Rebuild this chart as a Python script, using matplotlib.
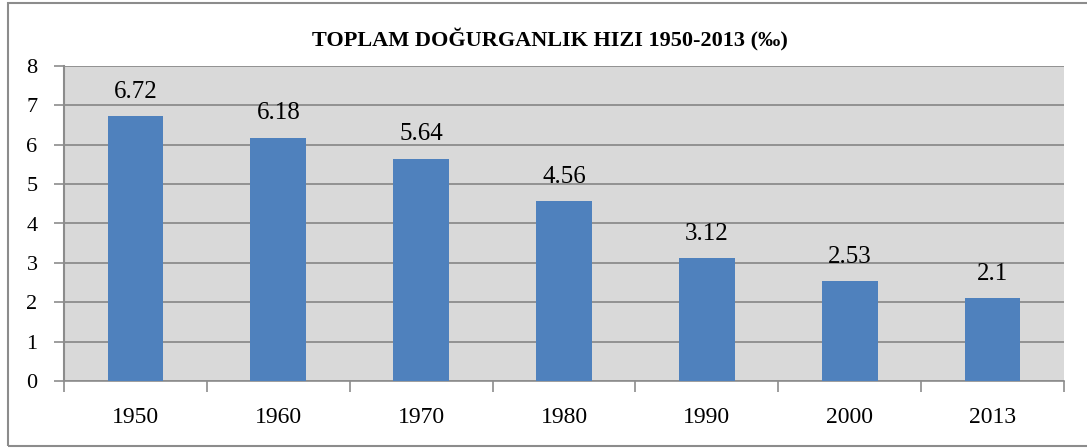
import numpy as np
import matplotlib.pyplot as plt
from matplotlib.patches import Rectangle

# Veriler
years = ["1950", "1960", "1970", "1980", "1990", "2000", "2013"]
rates = [6.72, 6.18, 5.64, 4.56, 3.12, 2.53, 2.1]
rate_labels = ["6.72", "6.18", "5.64", "4.56", "3.12", "2.53", "2.1"]
title = "TOPLAM DOĞURGANLIK HIZI 1950-2013 (‰)"

plt.rcParams['font.family'] = ['Liberation Serif', 'DejaVu Serif']

fig = plt.figure(figsize=(10.87, 4.48), dpi=100)
fig.patch.set_facecolor("white")
ax = fig.add_axes([64/1087, 1 - 381/448, (1064 - 64)/1087, (381 - 66)/448])

x = np.arange(len(years))
ax.bar(x, rates, width=0.39, color="#4F81BD", zorder=3)

# Çubuk üstü değerler
for xi, v, lab in zip(x, rates, rate_labels):
    ax.text(xi, v + 0.47, lab, ha="center", va="baseline", fontsize=18)

ax.set_facecolor("#D9D9D9")
ax.set_xlim(-0.5, len(years) - 0.5)
ax.set_ylim(0, 8)
ax.set_yticks(range(0, 9))
ax.tick_params(axis="y", labelsize=16, length=7, color="#8C8C8C", width=1.2, pad=12)
ax.yaxis.grid(True, color="#8C8C8C", linewidth=1.3, zorder=1)
ax.set_axisbelow(True)

# Kategori sınırlarında x işaretleri
ax.set_xticks(np.arange(-0.5, len(years), 1.0))
ax.set_xticklabels([])
ax.set_xticks(x, minor=True)
ax.set_xticklabels(years, minor=True)
ax.tick_params(axis="x", which="major", length=8, color="#8C8C8C", width=1.2)
ax.tick_params(axis="x", which="minor", length=0, labelsize=17, pad=19)

for s in ["top", "right"]:
    ax.spines[s].set_visible(False)
ax.spines["left"].set_color("#8C8C8C")
ax.spines["left"].set_linewidth(1.5)
ax.spines["bottom"].set_color("#8C8C8C")
ax.spines["bottom"].set_linewidth(1.2)

fig.text(550/1087, 1 - 40/448, title, ha="center", va="center",
         fontsize=16, fontweight="bold")

# Çerçeve
fig.patches.append(Rectangle((8/1087, 1 - 446/448), 1.0, 443/448,
                             transform=fig.transFigure, fill=False,
                             edgecolor="#8C8C8C", linewidth=1.5))

fig.savefig("out.png", dpi=100)
